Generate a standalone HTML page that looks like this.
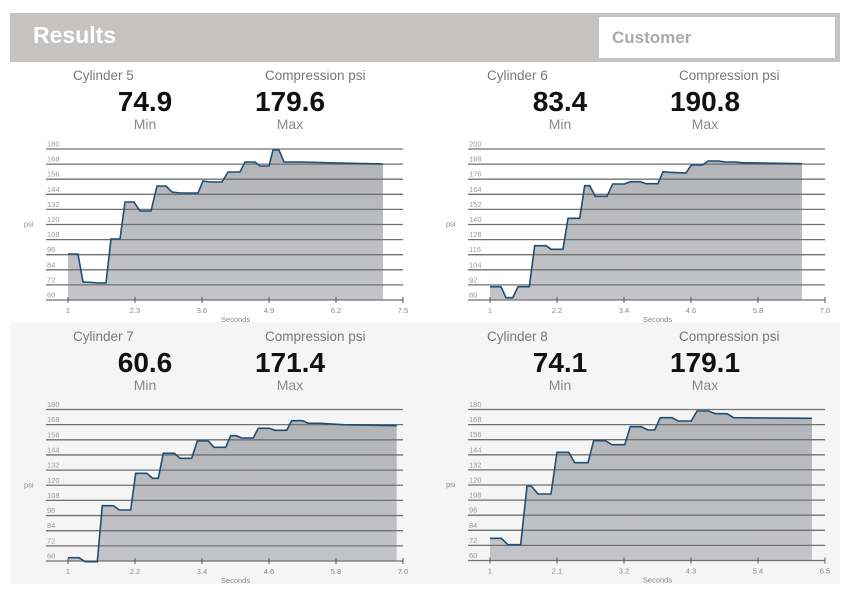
<!DOCTYPE html>
<html><head><meta charset="utf-8"><style>
body{margin:0;width:864px;height:616px;background:#fff;font-family:"Liberation Sans",sans-serif;overflow:hidden;position:relative}
.abs{position:absolute}
.hdr{left:10px;top:13px;width:830px;height:49px;background:#c4c3c1}
.res{left:33px;top:22px;color:#fff;font-weight:bold;font-size:23px}
.cust{left:599px;top:17px;width:236px;height:41px;background:#fff}
.ctext{left:612px;top:28px;color:#a9a9a9;font-weight:bold;font-size:17px}
.lbl{color:#777;font-size:13.5px;white-space:nowrap}
.big{font-weight:bold;font-size:28px;color:#111;transform:translateX(-50%);white-space:nowrap}
.sub{color:#888;font-size:14px;transform:translateX(-50%)}
svg{position:absolute;left:0;top:0}
</style></head><body>
<div class="abs" style="left:10px;top:322px;width:830px;height:262px;background:#f4f5f4"></div>
<div class="abs hdr"></div>
<div class="abs res">Results</div>
<div class="abs cust"></div>
<div class="abs ctext">Customer</div>

<div class="abs lbl" style="left:73px;top:68px">Cylinder 5</div>
<div class="abs lbl" style="left:265px;top:68px">Compression psi</div>
<div class="abs big" style="left:145px;top:86px">74.9</div>
<div class="abs big" style="left:290px;top:86px">179.6</div>
<div class="abs sub" style="left:145px;top:116px">Min</div>
<div class="abs sub" style="left:290px;top:116px">Max</div>

<div class="abs lbl" style="left:487px;top:68px">Cylinder 6</div>
<div class="abs lbl" style="left:679px;top:68px">Compression psi</div>
<div class="abs big" style="left:560px;top:86px">83.4</div>
<div class="abs big" style="left:705px;top:86px">190.8</div>
<div class="abs sub" style="left:560px;top:116px">Min</div>
<div class="abs sub" style="left:705px;top:116px">Max</div>

<div class="abs lbl" style="left:73px;top:329px">Cylinder 7</div>
<div class="abs lbl" style="left:265px;top:329px">Compression psi</div>
<div class="abs big" style="left:145px;top:347px">60.6</div>
<div class="abs big" style="left:290px;top:347px">171.4</div>
<div class="abs sub" style="left:145px;top:377px">Min</div>
<div class="abs sub" style="left:290px;top:377px">Max</div>

<div class="abs lbl" style="left:487px;top:329px">Cylinder 8</div>
<div class="abs lbl" style="left:679px;top:329px">Compression psi</div>
<div class="abs big" style="left:560px;top:347px">74.1</div>
<div class="abs big" style="left:705px;top:347px">179.1</div>
<div class="abs sub" style="left:560px;top:377px">Min</div>
<div class="abs sub" style="left:705px;top:377px">Max</div>

<svg id="s" width="864" height="616" xmlns="http://www.w3.org/2000/svg">
<defs><linearGradient id="g" x1="0" y1="0" x2="0" y2="1"><stop offset="0" stop-color="#b3b4b8"/><stop offset="1" stop-color="#c4c5c9"/></linearGradient></defs>
</svg>
<script>
var charts=[
{gx:46,x0:68,x1:403,top:149,bot:300,ymin:60,xl:["1","2.3","3.6","4.9","6.2","7.5"],
pts:[[68,254],[78,254],[83,282],[93,282.5],[98,283],[106,283],[111,239],[120,239],[125,202],[134,202],[140,211],[151,211],[157,186],[166,186],[172,192],[180,193],[198,193],[203,181],[210,182],[222,182],[228,172],[240,172],[245,162],[255,162],[260,166],[269,166],[273,150],[279,150],[284,162],[300,162],[340,163],[383,164]]},
{gx:468,x0:490,x1:825,top:149,bot:300,ymin:80,xl:["1","2.2","3.4","4.6","5.8","7.0"],
pts:[[490,286.7],[501,286.7],[506,297.7],[512.7,297.7],[518,286.7],[529.3,286.7],[534.7,245.7],[546,245.7],[551.3,249.3],[563,249.3],[568,218.3],[579.7,218.3],[584.7,185.7],[589.7,185.7],[595.3,196.3],[607,196.3],[612.7,184],[624.3,184],[630.3,181.7],[640.3,181.7],[646,183.7],[658,183.7],[663,171.7],[669.7,172.3],[686,173],[691.3,165],[702.7,165],[708,161],[718.7,161],[725.3,162],[735.3,162],[742,162.7],[802,163.7]]},
{gx:46,x0:68,x1:403,top:409.5,bot:561,ymin:60,xl:["1","2.2","3.4","4.6","5.8","7.0"],
pts:[[68,557.7],[79,557.7],[85,561.7],[97.3,561.7],[102.3,505.7],[113.3,505.7],[119.3,510],[130.7,510],[135.7,473.3],[146.7,473.3],[152.7,478.3],[158.3,478.3],[163.3,453.3],[174.3,453.3],[180,458.3],[191.7,458.3],[197.3,441],[208.3,441],[214,447.3],[225.7,447.3],[230.7,435.7],[236,435.7],[241.7,438],[253.3,438],[258.3,428.3],[269.3,428.3],[275,430.3],[286.7,430.3],[291.7,420.7],[302.7,420.7],[308.3,423.3],[320,423.3],[343.3,424.7],[396.7,425.7]]},
{gx:468,x0:490,x1:825,top:409.5,bot:560.5,ymin:60,xl:["1","2.1","3.2","4.3","5.4","6.5"],
pts:[[490,538.3],[501.3,538.3],[508,544.7],[520.7,544.7],[527,486],[531.3,486],[538,494],[551,494],[557,452.3],[568.7,452.3],[574.7,462.7],[588,462.7],[593.7,440.7],[605.3,440.7],[612,444.7],[624.7,444.7],[630.3,426.7],[641.3,426.7],[648,430],[654.7,430],[660.3,417.7],[672,417.7],[678,421],[691.3,421],[697,411],[708.7,411],[715.3,413.7],[727,413.7],[733.7,417.7],[812,418.3]]}
];
var h='';
charts.forEach(function(c){
 var p=c.pts, d='M'+p[0][0]+','+c.bot;
 p.forEach(function(q){d+=' L'+q[0]+','+q[1];});
 d+=' L'+p[p.length-1][0]+','+c.bot+' Z';
 h+='<path d="'+d+'" fill="url(#g)"/>';
 for(var i=0;i<=10;i++){var y=c.bot-(c.bot-c.top)*i/10;
  h+='<line x1="'+c.gx+'" x2="'+c.x1+'" y1="'+y+'" y2="'+y+'" stroke="#707070" stroke-width="1.3"/>';
  h+='<text x="'+(c.gx+1)+'" y="'+(y-2.5)+'" font-size="7.5" fill="#999" font-family="Liberation Sans,sans-serif">'+(c.ymin+12*i)+'</text>';}
 for(var k=0;k<6;k++){var x=c.x0+(c.x1-c.x0)*k/5;
  h+='<line x1="'+x+'" x2="'+x+'" y1="'+(c.bot-3)+'" y2="'+(c.bot+3)+'" stroke="#555" stroke-width="1"/>';
  h+='<text x="'+x+'" y="'+(c.bot+13)+'" font-size="7.5" fill="#888" text-anchor="middle" font-family="Liberation Sans,sans-serif">'+c.xl[k]+'</text>';}
 h+='<text x="'+((c.x0+c.x1)/2)+'" y="'+(c.bot+22)+'" font-size="7.5" fill="#888" text-anchor="middle" font-family="Liberation Sans,sans-serif">Seconds</text>';
 h+='<text x="'+(c.gx-22)+'" y="'+((c.top+c.bot)/2+2)+'" font-size="7.5" fill="#888" font-family="Liberation Sans,sans-serif">psi</text>';
 h+='<polyline points="'+p.map(function(q){return q.join(',')}).join(' ')+'" fill="none" stroke="#1f4e75" stroke-width="1.6"/>';
});
document.getElementById('s').innerHTML+=h;
</script>
</body></html>
